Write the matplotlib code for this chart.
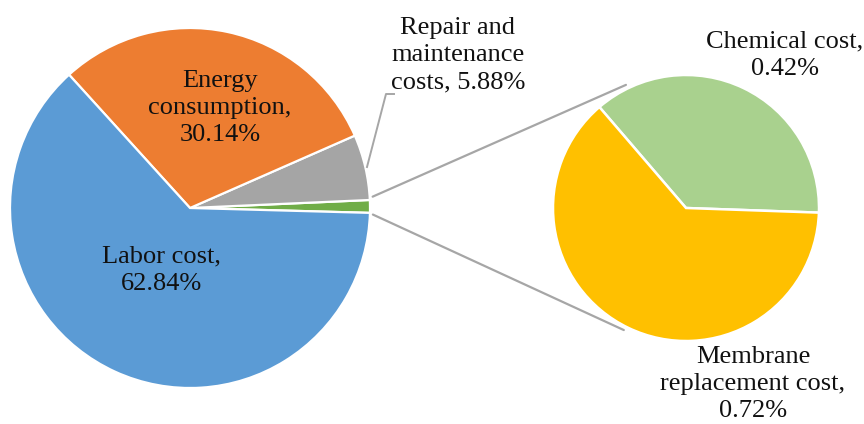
import numpy as np
import matplotlib.pyplot as plt

# data
main_names = ["Other", "Repair and\nmaintenance\ncosts, {:.2f}%", "Energy\nconsumption,\n{:.2f}%", "Labor cost,\n{:.2f}%"]
main_values = [0.42 + 0.72, 5.88, 30.14, 62.84]
main_colors = ["#70AD47", "#A5A5A5", "#ED7D31", "#5B9BD5"]

sub_names = ["Chemical cost,\n{:.2f}%", "Membrane\nreplacement cost,\n{:.2f}%"]
sub_values = [0.42, 0.72]
sub_colors = ["#A9D18E", "#FFC000"]

W, H = 864, 424
fig = plt.figure(figsize=(W / 100, H / 100), dpi=100)
ax = fig.add_axes([0, 0, 1, 1])

# pixel-like coordinates, y measured from bottom
main_c, main_r = (190, H - 208), 180
sub_c, sub_r = (686, H - 208), 133

green_span = main_values[0] / sum(main_values) * 360
wedges_main, _ = ax.pie(main_values, colors=main_colors, startangle=-green_span / 2 + 0.5,
                        counterclock=True, center=main_c, radius=main_r,
                        wedgeprops=dict(edgecolor="white", linewidth=1.6))
wedges_sub, _ = ax.pie(sub_values, colors=sub_colors, startangle=-2,
                       counterclock=True, center=sub_c, radius=sub_r,
                       wedgeprops=dict(edgecolor="white", linewidth=1.8))

# connector lines between the small slice and the second pie
w = wedges_main[0]
line_col = "#A6A6A6"
for a_main, a_sub in [(w.theta2 + 1, 116), (w.theta1 - 0.5, -117)]:
    x0 = main_c[0] + (main_r + 3) * np.cos(np.radians(a_main))
    y0 = main_c[1] + (main_r + 3) * np.sin(np.radians(a_main))
    x1 = sub_c[0] + sub_r * 1.03 * np.cos(np.radians(a_sub))
    y1 = sub_c[1] + sub_r * 1.03 * np.sin(np.radians(a_sub))
    ax.plot([x0, x1], [y0, y1], color=line_col, lw=1.6, solid_capstyle="round")

font = dict(family="Liberation Serif", fontsize=19, ha="center", va="center",
            linespacing=1.3, color="#111111")

main_label_pos = [None, (458, H - 55), (220, H - 108), (161, H - 270)]
for name, v, pos in zip(main_names, main_values, main_label_pos):
    if pos is None:
        continue
    ax.text(pos[0], pos[1], name.format(v), **font)

sub_label_pos = [(785, H - 55), (753, H - 384)]
for name, v, pos in zip(sub_names, sub_values, sub_label_pos):
    ax.text(pos[0], pos[1], name.format(v), **font)

# leader line for the repair label
ax.plot([367, 386, 394], [H - 167, H - 94, H - 94], color=line_col, lw=1.4)

ax.set_xlim(0, W)
ax.set_ylim(0, H)
ax.set_aspect("equal")
ax.axis("off")

fig.savefig("out.png", dpi=100, facecolor="white")
